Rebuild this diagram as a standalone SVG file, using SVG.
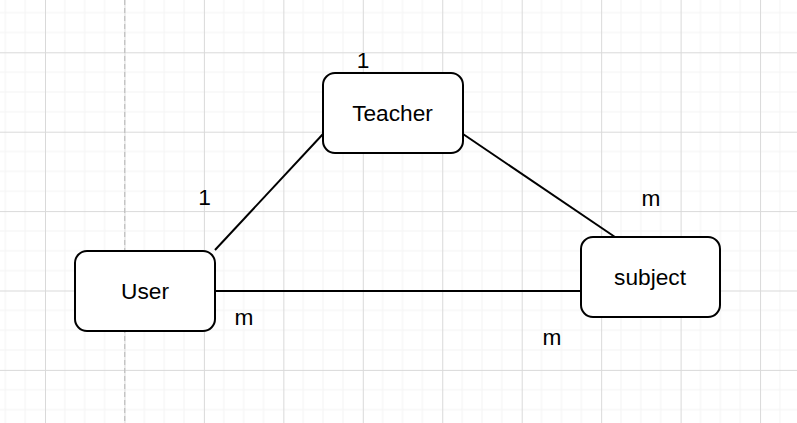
<svg xmlns="http://www.w3.org/2000/svg" width="797" height="423" viewBox="0 0 797 423">
<style>
.node rect{fill:#ffffff;stroke:#000000;stroke-width:2}
.node text,.lbl{font-family:"Liberation Sans",Arial,sans-serif;font-size:22.7px;fill:#000000}
.node text{text-anchor:middle}
.lbl{text-anchor:middle}
.edge{stroke:#000000;stroke-width:2;fill:none}
.minor{stroke:#f3f3f3;stroke-width:1}
.major{stroke:#d9d9d9;stroke-width:1}
</style>
<defs>
<pattern id="grid" patternUnits="userSpaceOnUse" x="45" y="52.3" width="79.45" height="79.4">
<line class="minor" x1="19.86" y1="0" x2="19.86" y2="79.4"/>
<line class="minor" x1="39.72" y1="0" x2="39.72" y2="79.4"/>
<line class="minor" x1="59.58" y1="0" x2="59.58" y2="79.4"/>
<line class="minor" x1="0" y1="19.85" x2="79.45" y2="19.85"/>
<line class="minor" x1="0" y1="39.7" x2="79.45" y2="39.7"/>
<line class="minor" x1="0" y1="59.55" x2="79.45" y2="59.55"/>
<line class="major" x1="0.5" y1="0" x2="0.5" y2="79.4"/>
<line class="major" x1="0" y1="0.5" x2="79.45" y2="0.5"/>
</pattern>
</defs>
<rect x="0" y="0" width="797" height="423" fill="#ffffff"/>
<rect x="0" y="0" width="797" height="423" fill="url(#grid)"/>
<line x1="124.7" y1="0" x2="124.7" y2="423" stroke="#c0c0c0" stroke-width="1.2" stroke-dasharray="5 3"/>
<g id="connectors">
<line class="edge" x1="215" y1="250" x2="323" y2="134"/>
<line class="edge" x1="463" y1="134" x2="615" y2="237"/>
<line class="edge" x1="215" y1="291" x2="581" y2="291"/>
</g>
<g id="labels">
<text class="lbl" x="363" y="68.3">1</text>
<text class="lbl" x="204.5" y="205.3">1</text>
<text class="lbl" x="651" y="206">m</text>
<text class="lbl" x="244" y="325.3">m</text>
<text class="lbl" x="552" y="345">m</text>
</g>
<g id="teacher" class="node">
<rect x="323" y="73" width="140" height="80" rx="12" ry="12"/>
<text x="392.5" y="120.5">Teacher</text>
</g>
<g id="user" class="node">
<rect x="75" y="251" width="140" height="80" rx="12" ry="12"/>
<text x="145" y="298.7">User</text>
</g>
<g id="subject" class="node">
<rect x="581" y="237" width="139" height="80" rx="12" ry="12"/>
<text x="650" y="284.5">subject</text>
</g>
</svg>
